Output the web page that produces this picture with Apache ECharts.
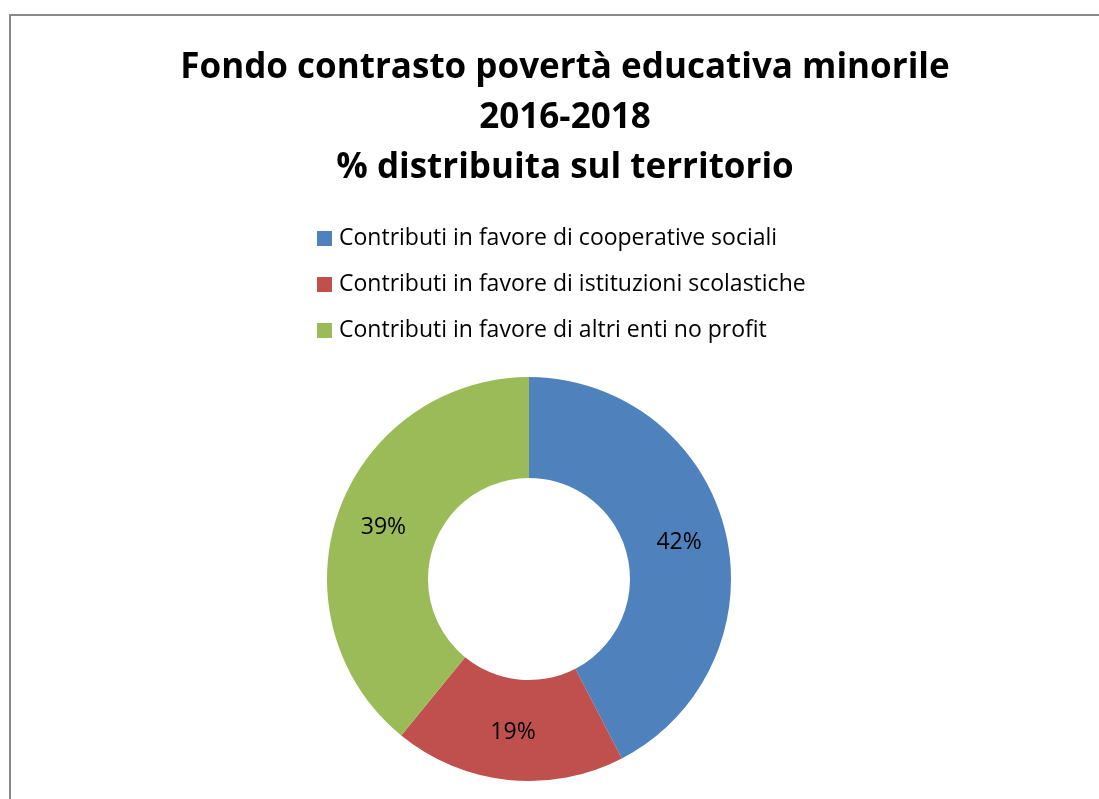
<!DOCTYPE html>
<html>
<head>
<meta charset="utf-8">
<script src="https://cdn.jsdelivr.net/npm/echarts@6/dist/echarts.min.js"></script>
<style>
html,body{margin:0;padding:0;background:#fff;overflow:hidden;}
#frame{position:absolute;left:9px;top:14px;width:1200px;height:900px;border:2px solid #898989;box-sizing:border-box;}
#chart{position:absolute;left:0;top:0;width:1099px;height:799px;}
</style>
</head>
<body>
<div id="frame"></div>
<div id="chart"></div>
<script>
const titleLines = ["Fondo contrasto povertà educativa minorile", "2016-2018", "% distribuita sul territorio"];
const categories = ["Contributi in favore di cooperative sociali", "Contributi in favore di istituzioni scolastiche", "Contributi in favore di altri enti no profit"];
const values = [42.4, 18.5, 39.1];
const colors = ["#4F81BD", "#C0504D", "#9BBB59"];

const chart = echarts.init(document.getElementById('chart'), null, {renderer: 'canvas'});
chart.setOption({
  backgroundColor: 'transparent',
  animation: false,
  color: colors,
  title: {
    text: titleLines.join('\n'),
    left: 560,
    top: 38,
    textAlign: 'center',
    textStyle: {fontFamily: 'Open Sans', fontWeight: 'bold', fontSize: 35, lineHeight: 50, color: '#000'}
  },
  legend: {
    orient: 'vertical',
    left: 312,
    top: 222,
    itemWidth: 15,
    itemHeight: 15,
    itemGap: 23,
    icon: 'rect',
    textStyle: {fontFamily: 'Open Sans', fontSize: 23, color: '#000', padding: [0,0,0,2]},
    data: categories
  },
  series: [{
    type: 'pie',
    center: [529, 579],
    radius: [101, 202],
    startAngle: 90,
    clockwise: true,
    percentPrecision: 0,
    label: {position: 'inside', formatter: '{d}%', fontFamily: 'Open Sans', fontSize: 23, color: '#000'},
    labelLine: {show: false},
    itemStyle: {borderWidth: 0},
    emphasis: {disabled: true},
    data: categories.map((c, i) => ({name: c, value: values[i]}))
  }]
});
</script>
</body>
</html>
